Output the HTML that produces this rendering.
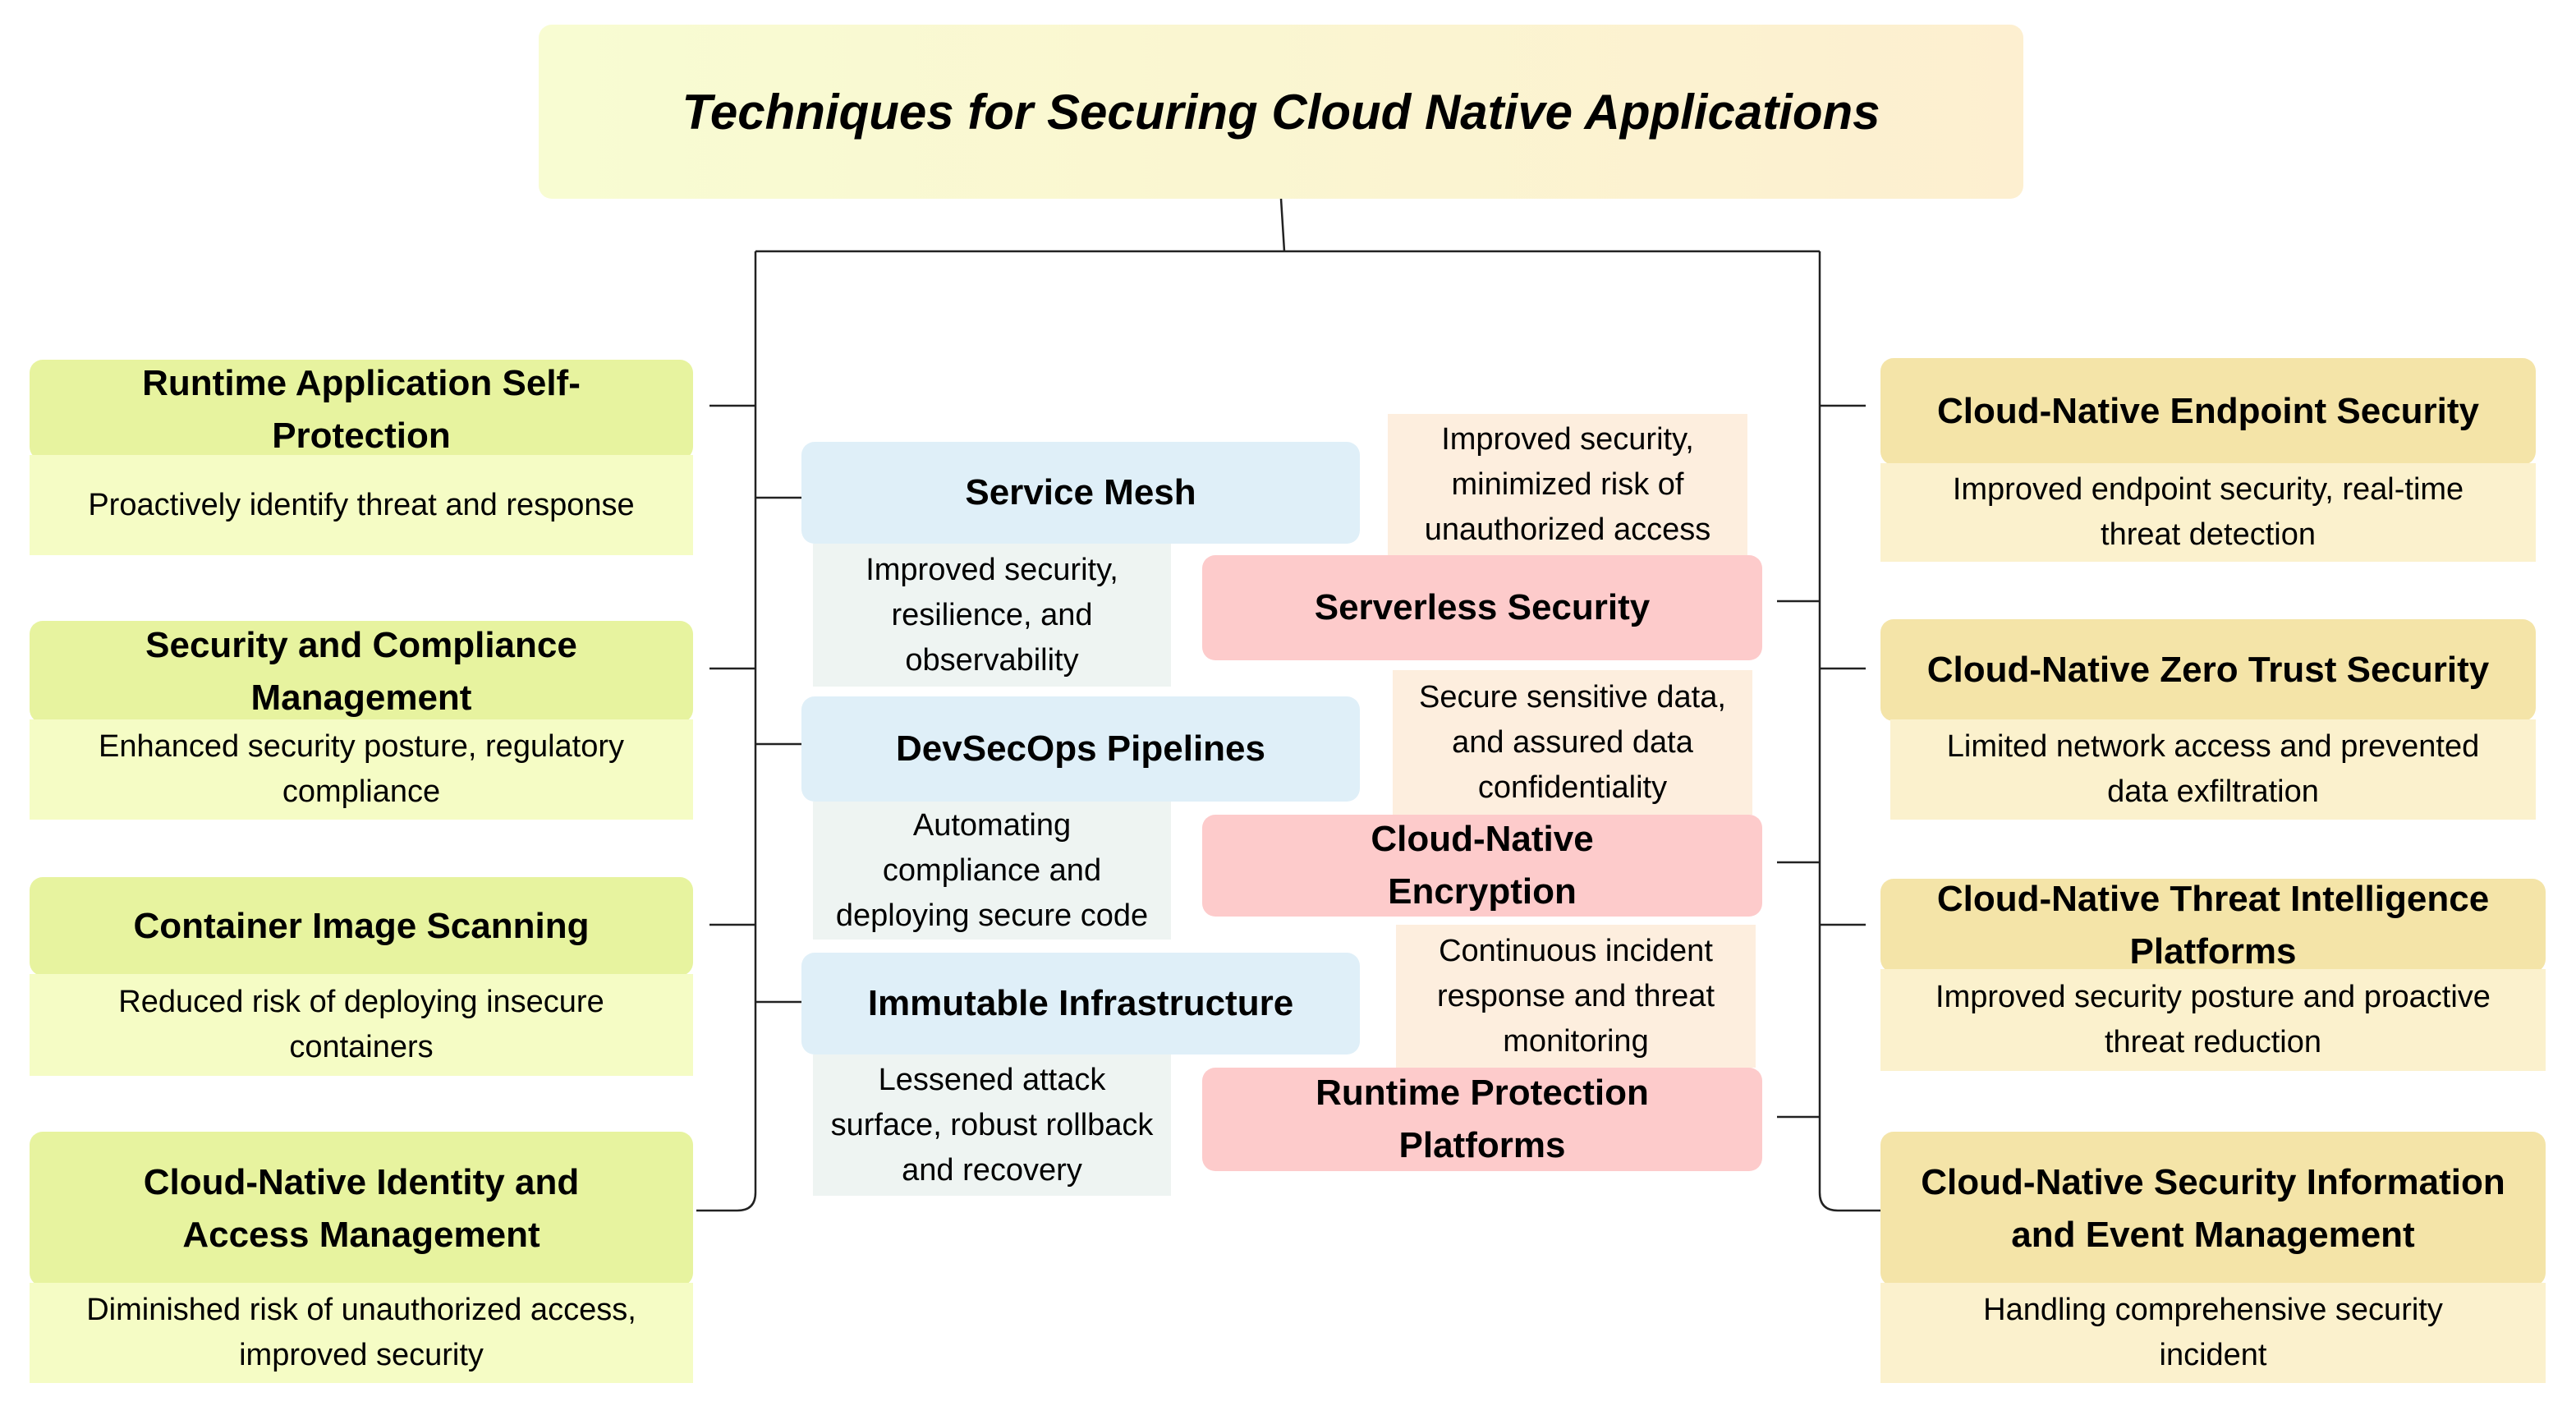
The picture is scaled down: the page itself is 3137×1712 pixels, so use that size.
<!DOCTYPE html>
<html><head><meta charset="utf-8"><style>
html,body{margin:0;padding:0;background:#fff;}
body{width:3137px;height:1712px;position:relative;overflow:hidden;font-family:"Liberation Sans",sans-serif;color:#000;}
.b{position:absolute;display:flex;align-items:center;justify-content:center;text-align:center;box-sizing:border-box;}
.h{font-weight:bold;font-size:44px;line-height:64px;border-radius:16px;}
.d{font-size:38px;line-height:55px;}
.lh{background:#e7f39f;}.ld{background:#f5fcc5;}
.rh{background:#f4e4a8;}.rd{background:#fbf1cd;}
.bh{background:#dfeff8;}.bd{background:#eef4f2;}
.ph{background:#fdcbcb;}.pd{background:#fdeede;}
</style></head><body>
<svg width="3137" height="1712" style="position:absolute;left:0;top:0" fill="none" stroke="#222" stroke-width="2.5">
<path d="M1560 242 L1564 306"/>
<path d="M920 306 H2216"/>
<path d="M920 306 V1452 Q920 1474 898 1474 H848"/>
<path d="M2216 306 V1452 Q2216 1474 2238 1474 H2290"/>
<path d="M864 494H920M864 814H920M864 1126H920"/>
<path d="M920 606H976M920 906H976M920 1220H976"/>
<path d="M2216 494H2272M2216 814H2272M2216 1126H2272"/>
<path d="M2164 732H2216M2164 1050H2216M2164 1360H2216"/>
</svg>
<div class="b" style="left:656px;top:30px;width:1808px;height:212px;border-radius:16px;background:linear-gradient(90deg,#f8fcd2,#fdefd0);font-size:60px;font-weight:bold;font-style:italic;">Techniques for Securing Cloud Native Applications</div>

<div class="b h lh" style="left:36px;top:438px;width:808px;height:122px;">Runtime Application Self-<br>Protection</div>
<div class="b d ld" style="left:36px;top:554px;width:808px;height:122px;">Proactively identify threat and response</div>
<div class="b h lh" style="left:36px;top:756px;width:808px;height:124px;">Security and Compliance<br>Management</div>
<div class="b d ld" style="left:36px;top:876px;width:808px;height:122px;">Enhanced security posture, regulatory<br>compliance</div>
<div class="b h lh" style="left:36px;top:1068px;width:808px;height:120px;">Container Image Scanning</div>
<div class="b d ld" style="left:36px;top:1186px;width:808px;height:124px;">Reduced risk of deploying insecure<br>containers</div>
<div class="b h lh" style="left:36px;top:1378px;width:808px;height:188px;">Cloud-Native Identity and<br>Access Management</div>
<div class="b d ld" style="left:36px;top:1562px;width:808px;height:122px;">Diminished risk of unauthorized access,<br>improved security</div>

<div class="b h rh" style="left:2290px;top:436px;width:798px;height:130px;">Cloud-Native Endpoint Security</div>
<div class="b d rd" style="left:2290px;top:564px;width:798px;height:120px;">Improved endpoint security, real-time<br>threat detection</div>
<div class="b h rh" style="left:2290px;top:754px;width:798px;height:124px;">Cloud-Native Zero Trust Security</div>
<div class="b d rd" style="left:2302px;top:876px;width:786px;height:122px;">Limited network access and prevented<br>data exfiltration</div>
<div class="b h rh" style="left:2290px;top:1070px;width:810px;height:114px;">Cloud-Native Threat Intelligence<br>Platforms</div>
<div class="b d rd" style="left:2290px;top:1180px;width:810px;height:124px;">Improved security posture and proactive<br>threat reduction</div>
<div class="b h rh" style="left:2290px;top:1378px;width:810px;height:188px;">Cloud-Native Security Information<br>and Event Management</div>
<div class="b d rd" style="left:2290px;top:1562px;width:810px;height:122px;">Handling comprehensive security<br>incident</div>

<div class="b h bh" style="left:976px;top:538px;width:680px;height:124px;">Service Mesh</div>
<div class="b d bd" style="left:990px;top:662px;width:436px;height:174px;">Improved security,<br>resilience, and<br>observability</div>
<div class="b h bh" style="left:976px;top:848px;width:680px;height:128px;">DevSecOps Pipelines</div>
<div class="b d bd" style="left:990px;top:976px;width:436px;height:168px;">Automating<br>compliance and<br>deploying secure code</div>
<div class="b h bh" style="left:976px;top:1160px;width:680px;height:124px;">Immutable Infrastructure</div>
<div class="b d bd" style="left:990px;top:1284px;width:436px;height:172px;">Lessened attack<br>surface, robust rollback<br>and recovery</div>

<div class="b d pd" style="left:1690px;top:504px;width:438px;height:172px;">Improved security,<br>minimized risk of<br>unauthorized access</div>
<div class="b h ph" style="left:1464px;top:676px;width:682px;height:128px;">Serverless Security</div>
<div class="b d pd" style="left:1696px;top:816px;width:438px;height:176px;">Secure sensitive data,<br>and assured data<br>confidentiality</div>
<div class="b h ph" style="left:1464px;top:992px;width:682px;height:124px;">Cloud-Native<br>Encryption</div>
<div class="b d pd" style="left:1700px;top:1126px;width:438px;height:174px;">Continuous incident<br>response and threat<br>monitoring</div>
<div class="b h ph" style="left:1464px;top:1300px;width:682px;height:126px;">Runtime Protection<br>Platforms</div>
</body></html>
